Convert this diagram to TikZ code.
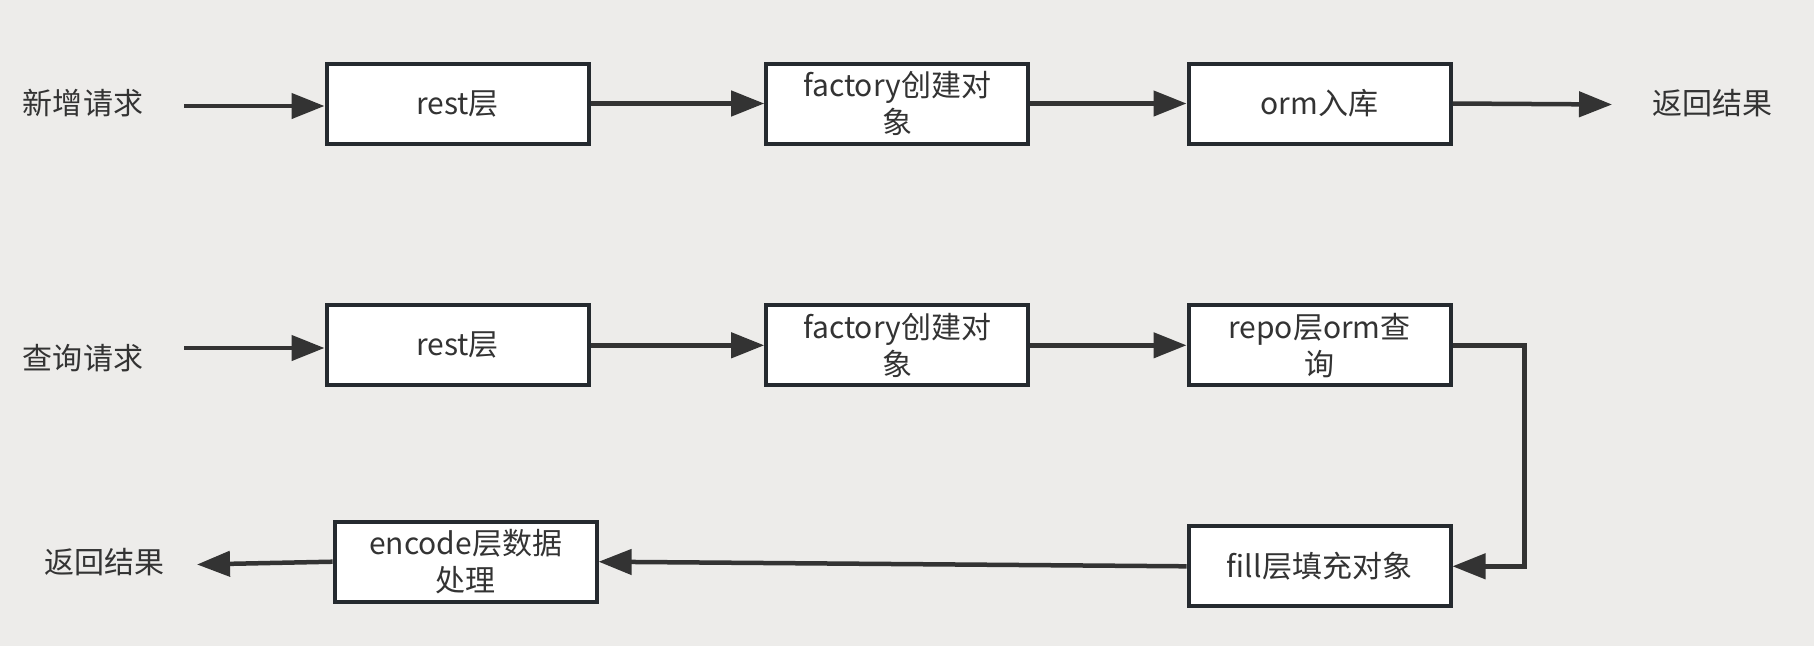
\documentclass[tikz,border=0pt]{standalone}
\usepackage{fontspec}
\setmainfont{Noto Sans CJK SC}
\usetikzlibrary{arrows.meta}
\definecolor{bg}{RGB}{237,236,234}
\definecolor{boxline}{RGB}{37,42,47}
\definecolor{arr}{RGB}{51,51,51}
\definecolor{txt}{RGB}{51,51,51}
\begin{document}
\begin{tikzpicture}[x=1pt,y=-1pt,
  stepbox/.style={draw=boxline,line width=4pt,fill=white,minimum width=262pt,minimum height=80pt,inner sep=0pt,align=center,text=txt,font=\fontsize{30}{37}\selectfont},
  lbl/.style={text=txt,font=\fontsize{30}{37}\selectfont,inner sep=0pt},
  conn/.style={draw=arr,line width=4.5pt,-{Triangle[length=33pt,width=25pt]}}]
\fill[bg] (0,0) rectangle (1814,646);
\useasboundingbox (0,0) rectangle (1814,646);
% row 1
\node[lbl] (l1) at (83,103.5) {新增请求};
\coordinate (s1) at (184,106);
\node[stepbox] (a1) at (457.5,103.5) {rest层};
\node[stepbox] (a2) at (897.2,103.5) {factory创建对\\象};
\node[stepbox] (a3) at (1319.5,103.5) {orm入库};
\coordinate (e1) at (1612,104.5);
\node[lbl] (r1) at (1712,103.5) {返回结果};
\draw[conn] (s1) -- (s1 -| a1.west);
\draw[conn] (a1.east) -- (a2.west);
\draw[conn] (a2.east) -- (a3.west);
\draw[conn] (a3.east) -- (e1);
% row 2
\node[lbl] (l2) at (83,358) {查询请求};
\coordinate (s2) at (184,348);
\node[stepbox] (b1) at (457.5,345.3) {rest层};
\node[stepbox] (b2) at (897.2,345.3) {factory创建对\\象};
\node[stepbox] (b3) at (1319.5,345.3) {repo层orm查\\询};
\draw[conn] (s2) -- (s2 -| b1.west);
\draw[conn] (b1.east) -- (b2.west);
\draw[conn] (b2.east) -- (b3.west);
% row 3
\node[stepbox] (c1) at (1319.5,566.3) {fill层填充对象};
\node[stepbox] (c2) at (465.6,561.7) {encode层数据\\处理};
\coordinate (e2) at (197,564.5);
\node[lbl] (r2) at (104,562) {返回结果};
\draw[conn] (b3.east) -- ++(72,0) |- (c1.east);
\draw[conn] (c1.west) -- (c2.east);
\draw[conn] (c2.west) -- (e2);
\end{tikzpicture}
\end{document}
